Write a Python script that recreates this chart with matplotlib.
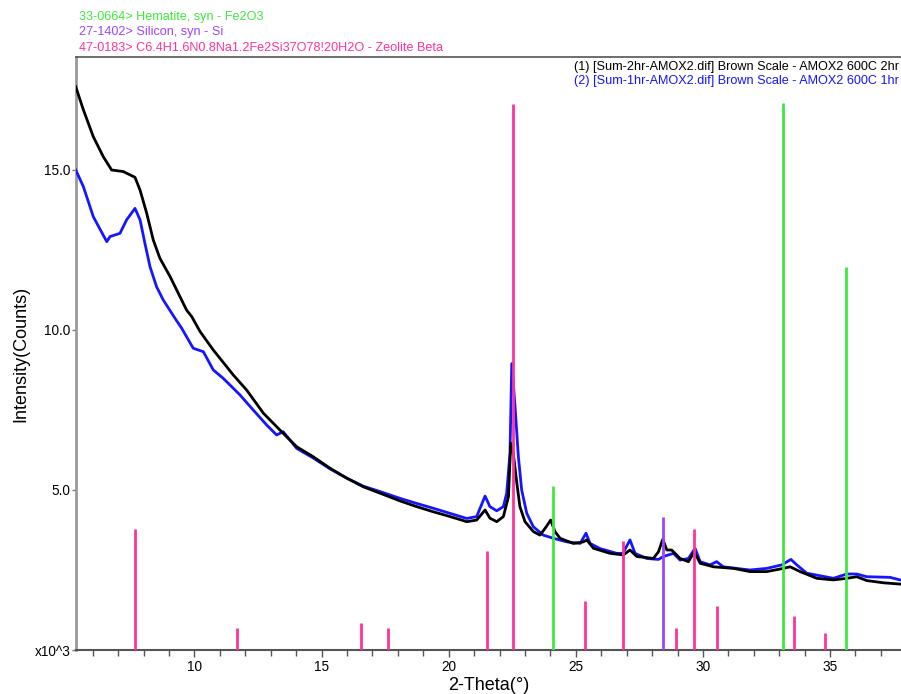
import matplotlib
matplotlib.use("Agg")
import matplotlib.pyplot as plt
from matplotlib.ticker import MultipleLocator, FixedLocator

plt.rcParams['font.family'] = ['Liberation Sans', 'DejaVu Sans']

# ---- data ----
black_x = [5.33, 5.63, 6.02, 6.41, 6.74, 7.20, 7.66, 7.86, 8.12, 8.38, 8.64, 9.04, 9.43, 9.69, 9.89,
           10.22, 10.74, 11.53, 12.05, 12.71, 13.36, 14.02, 14.67, 15.33, 15.99, 16.64, 17.30, 18.08,
           18.74, 19.39, 20.05, 20.71, 21.10, 21.43, 21.62, 21.89, 22.15, 22.35, 22.44, 22.54, 22.68,
           22.80, 23.00, 23.33, 23.59, 23.79, 24.01, 24.18, 24.38, 24.90, 25.30, 25.43, 25.69, 26.35,
           26.87, 27.13, 27.40, 27.66, 28.05, 28.25, 28.42, 28.58, 28.77, 29.10, 29.43, 29.66, 29.89,
           30.41, 31.20, 31.85, 32.51, 33.16, 33.43, 33.82, 34.48, 35.13, 35.66, 36.05, 36.44, 37.10, 37.75]
black_y = [17.60, 16.88, 16.04, 15.42, 15.00, 14.95, 14.77, 14.37, 13.65, 12.81, 12.24, 11.67, 11.04, 10.62, 10.42,
           9.95, 9.375, 8.59, 8.125, 7.40, 6.875, 6.35, 6.04, 5.68, 5.37, 5.10, 4.90, 4.66,
           4.48, 4.32, 4.17, 4.01, 4.06, 4.375, 4.12, 4.01, 4.17, 4.79, 6.46, 6.15, 5.21,
           4.48, 4.01, 3.70, 3.59, 3.80, 4.06, 3.70, 3.49, 3.33, 3.38, 3.44, 3.18, 3.02,
           2.97, 3.125, 2.92, 2.90, 2.86, 3.07, 3.46, 3.125, 3.125, 2.86, 2.76, 3.07, 2.71,
           2.60, 2.55, 2.45, 2.45, 2.55, 2.60, 2.45, 2.24, 2.19, 2.24, 2.29, 2.17, 2.10, 2.06]

blue_x = [5.33, 5.63, 6.02, 6.55, 6.68, 7.07, 7.33, 7.66, 7.86, 8.05, 8.25, 8.51, 8.77, 9.23, 9.50, 9.95,
          10.35, 10.74, 11.13, 11.79, 12.31, 12.84, 13.23, 13.49, 14.02, 14.67, 15.33, 15.99, 16.64, 17.30,
          18.08, 18.74, 19.39, 20.05, 20.71, 21.10, 21.43, 21.62, 21.89, 22.15, 22.28, 22.41, 22.48, 22.61,
          22.74, 22.87, 23.07, 23.33, 23.72, 24.12, 24.64, 25.17, 25.40, 25.56, 25.95, 26.61, 26.85, 27.13,
          27.33, 27.79, 28.25, 28.44, 28.84, 29.10, 29.43, 29.69, 29.89, 30.28, 30.54, 30.80, 31.85, 32.51,
          33.10, 33.46, 33.69, 34.08, 35.13, 35.66, 36.05, 36.44, 37.36, 37.75]
blue_y = [15.00, 14.48, 13.54, 12.76, 12.92, 13.02, 13.44, 13.80, 13.44, 12.71, 11.98, 11.35, 10.94, 10.37, 10.05, 9.43,
          9.32, 8.75, 8.49, 7.97, 7.50, 7.03, 6.72, 6.82, 6.30, 6.00, 5.66, 5.37, 5.12, 4.95,
          4.74, 4.58, 4.43, 4.27, 4.11, 4.17, 4.81, 4.48, 4.35, 4.48, 4.90, 6.15, 8.95, 7.60,
          6.04, 5.00, 4.27, 3.85, 3.59, 3.49, 3.38, 3.33, 3.65, 3.33, 3.17, 3.02, 3.02, 3.44,
          3.02, 2.86, 2.83, 2.92, 3.02, 2.81, 2.86, 3.18, 2.76, 2.66, 2.76, 2.60, 2.50, 2.55,
          2.66, 2.83, 2.66, 2.40, 2.24, 2.375, 2.375, 2.29, 2.27, 2.19]

zeolite_pos = [7.67, 11.67, 16.55, 17.61, 21.50, 22.52, 25.38, 26.86, 28.95, 29.64, 30.57, 33.57, 34.80]
zeolite_h = [3.77, 0.70, 0.85, 0.70, 3.09, 17.06, 1.53, 3.42, 0.70, 3.77, 1.375, 1.06, 0.52]
hematite_pos = [24.12, 33.15, 35.64]
hematite_h = [5.13, 17.09, 11.97]
silicon_pos = [28.44]
silicon_h = [4.17]

ref_labels = ["33-0664> Hematite, syn - Fe2O3",
              "27-1402> Silicon, syn - Si",
              "47-0183> C6.4H1.6N0.8Na1.2Fe2Si37O78!20H2O - Zeolite Beta"]
scan_labels = ["(1) [Sum-2hr-AMOX2.dif] Brown Scale - AMOX2 600C 2hr",
               "(2) [Sum-1hr-AMOX2.dif] Brown Scale - AMOX2 600C 1hr"]
ytick_vals = [0, 5, 10, 15]
ytick_labels = ["x10^3", "5.0", "10.0", "15.0"]
xtick_vals = [10, 15, 20, 25, 30, 35]

c_black = "#000000"
c_blue = "#1515ff"
c_pink = "#ff3399"
c_green = "#3ee83e"
c_purple = "#9b45ff"

W, H = 901, 694
fig = plt.figure(figsize=(W / 100, H / 100), dpi=100)
ax = fig.add_axes([76 / W, 1 - 650 / H, 825 / W, 593 / H])

ax.plot(blue_x, blue_y, color=c_blue, lw=2.0, zorder=3)
ax.plot(black_x, black_y, color=c_black, lw=2.0, zorder=3)

ax.vlines(zeolite_pos, 0, zeolite_h, colors=c_pink, lw=2, zorder=4)
ax.vlines(hematite_pos, 0, hematite_h, colors=c_green, lw=2, zorder=4)
ax.vlines(silicon_pos, 0, silicon_h, colors=c_purple, lw=2, zorder=4)

ax.set_xlim(5.34, 37.79)
ax.set_ylim(0, 18.53)

ax.xaxis.set_major_locator(FixedLocator(xtick_vals))
ax.xaxis.set_minor_locator(MultipleLocator(1))
ax.yaxis.set_major_locator(FixedLocator(ytick_vals))
ax.set_yticklabels(ytick_labels)
ax.tick_params(axis='x', which='major', length=5, width=1, color='#555555', labelsize=9.8, pad=2)
ax.tick_params(axis='x', which='minor', length=4, width=1, color='#555555')
ax.tick_params(axis='y', which='major', length=3, width=1, color='#777777', labelsize=9.8, pad=1)

ax.spines['left'].set_color('#999999')
ax.spines['left'].set_linewidth(2)
ax.spines['bottom'].set_color('#555555')
ax.spines['bottom'].set_linewidth(1.5)
ax.spines['top'].set_color('#555555')
ax.spines['top'].set_linewidth(1.2)
ax.spines['right'].set_visible(False)

ax.set_xlabel("2-Theta(°)", fontsize=13, labelpad=2)
ax.set_ylabel("Intensity(Counts)", fontsize=13, labelpad=4)

ref_colors = [c_green, c_purple, c_pink]
for i, (t, c) in enumerate(zip(ref_labels, ref_colors)):
    fig.text(79 / W, 1 - (17 + 15.5 * i) / H, t, color=c, fontsize=9.1, va='center', ha='left')

scan_colors = [c_black, c_blue]
for i, (t, c) in enumerate(zip(scan_labels, scan_colors)):
    fig.text(899 / W, 1 - (67 + 14 * i) / H, t, color=c, fontsize=9.1, va='center', ha='right')

fig.savefig("out.png", dpi=100)
